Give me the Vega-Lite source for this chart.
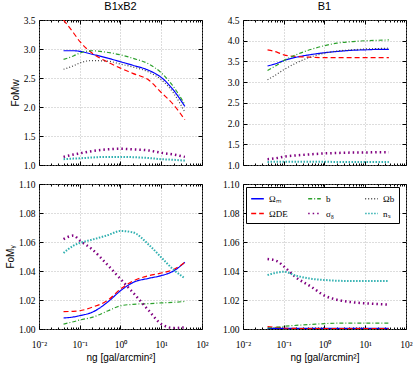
{
  "$schema": "https://vega.github.io/schema/vega-lite/v6.json",
  "padding": {"left": 4, "top": 0, "right": 4, "bottom": 0},
  "background": "white",
  "columns": 2,
  "spacing": {"row": 8, "column": 12},
  "data": {"values": [
    {"panel":"A","param":"Ωₘ","ng":0.04,"fom":2.97},{"panel":"A","param":"Ωₘ","ng":0.07,"fom":2.97},{"panel":"A","param":"Ωₘ","ng":0.1,"fom":2.96},{"panel":"A","param":"Ωₘ","ng":0.2,"fom":2.91},{"panel":"A","param":"Ωₘ","ng":0.5,"fom":2.84},{"panel":"A","param":"Ωₘ","ng":1,"fom":2.78},{"panel":"A","param":"Ωₘ","ng":2,"fom":2.72},{"panel":"A","param":"Ωₘ","ng":5,"fom":2.63},{"panel":"A","param":"Ωₘ","ng":10,"fom":2.51},{"panel":"A","param":"Ωₘ","ng":20,"fom":2.29},{"panel":"A","param":"Ωₘ","ng":38,"fom":2.01},
    {"panel":"A","param":"ΩDE","ng":0.04,"fom":3.5},{"panel":"A","param":"ΩDE","ng":0.07,"fom":3.28},{"panel":"A","param":"ΩDE","ng":0.1,"fom":3.13},{"panel":"A","param":"ΩDE","ng":0.2,"fom":2.93},{"panel":"A","param":"ΩDE","ng":0.5,"fom":2.77},{"panel":"A","param":"ΩDE","ng":1,"fom":2.67},{"panel":"A","param":"ΩDE","ng":2,"fom":2.58},{"panel":"A","param":"ΩDE","ng":5,"fom":2.46},{"panel":"A","param":"ΩDE","ng":10,"fom":2.25},{"panel":"A","param":"ΩDE","ng":20,"fom":2.04},{"panel":"A","param":"ΩDE","ng":38,"fom":1.78},
    {"panel":"A","param":"b","ng":0.04,"fom":2.82},{"panel":"A","param":"b","ng":0.07,"fom":2.88},{"panel":"A","param":"b","ng":0.1,"fom":2.93},{"panel":"A","param":"b","ng":0.2,"fom":2.97},{"panel":"A","param":"b","ng":0.5,"fom":2.94},{"panel":"A","param":"b","ng":1,"fom":2.9},{"panel":"A","param":"b","ng":2,"fom":2.84},{"panel":"A","param":"b","ng":5,"fom":2.74},{"panel":"A","param":"b","ng":10,"fom":2.59},{"panel":"A","param":"b","ng":20,"fom":2.35},{"panel":"A","param":"b","ng":38,"fom":2.04},
    {"panel":"A","param":"Ωb","ng":0.04,"fom":2.65},{"panel":"A","param":"Ωb","ng":0.07,"fom":2.71},{"panel":"A","param":"Ωb","ng":0.1,"fom":2.76},{"panel":"A","param":"Ωb","ng":0.2,"fom":2.8},{"panel":"A","param":"Ωb","ng":0.5,"fom":2.79},{"panel":"A","param":"Ωb","ng":1,"fom":2.74},{"panel":"A","param":"Ωb","ng":2,"fom":2.69},{"panel":"A","param":"Ωb","ng":5,"fom":2.6},{"panel":"A","param":"Ωb","ng":10,"fom":2.47},{"panel":"A","param":"Ωb","ng":20,"fom":2.24},{"panel":"A","param":"Ωb","ng":38,"fom":1.91},
    {"panel":"A","param":"σ₈","ng":0.04,"fom":1.14},{"panel":"A","param":"σ₈","ng":0.07,"fom":1.18},{"panel":"A","param":"σ₈","ng":0.1,"fom":1.2},{"panel":"A","param":"σ₈","ng":0.2,"fom":1.24},{"panel":"A","param":"σ₈","ng":0.5,"fom":1.27},{"panel":"A","param":"σ₈","ng":1,"fom":1.28},{"panel":"A","param":"σ₈","ng":2,"fom":1.27},{"panel":"A","param":"σ₈","ng":5,"fom":1.25},{"panel":"A","param":"σ₈","ng":10,"fom":1.21},{"panel":"A","param":"σ₈","ng":20,"fom":1.18},{"panel":"A","param":"σ₈","ng":38,"fom":1.14},
    {"panel":"A","param":"nₛ","ng":0.04,"fom":1.1},{"panel":"A","param":"nₛ","ng":0.07,"fom":1.11},{"panel":"A","param":"nₛ","ng":0.1,"fom":1.115},{"panel":"A","param":"nₛ","ng":0.2,"fom":1.13},{"panel":"A","param":"nₛ","ng":0.5,"fom":1.14},{"panel":"A","param":"nₛ","ng":1,"fom":1.14},{"panel":"A","param":"nₛ","ng":2,"fom":1.135},{"panel":"A","param":"nₛ","ng":5,"fom":1.12},{"panel":"A","param":"nₛ","ng":10,"fom":1.1},{"panel":"A","param":"nₛ","ng":20,"fom":1.09},{"panel":"A","param":"nₛ","ng":38,"fom":1.075},
    {"panel":"B","param":"Ωₘ","ng":0.04,"fom":3.39},{"panel":"B","param":"Ωₘ","ng":0.07,"fom":3.46},{"panel":"B","param":"Ωₘ","ng":0.1,"fom":3.52},{"panel":"B","param":"Ωₘ","ng":0.2,"fom":3.6},{"panel":"B","param":"Ωₘ","ng":0.5,"fom":3.67},{"panel":"B","param":"Ωₘ","ng":1,"fom":3.71},{"panel":"B","param":"Ωₘ","ng":2,"fom":3.74},{"panel":"B","param":"Ωₘ","ng":5,"fom":3.77},{"panel":"B","param":"Ωₘ","ng":10,"fom":3.78},{"panel":"B","param":"Ωₘ","ng":20,"fom":3.79},{"panel":"B","param":"Ωₘ","ng":38,"fom":3.79},
    {"panel":"B","param":"ΩDE","ng":0.04,"fom":3.78},{"panel":"B","param":"ΩDE","ng":0.07,"fom":3.72},{"panel":"B","param":"ΩDE","ng":0.1,"fom":3.66},{"panel":"B","param":"ΩDE","ng":0.2,"fom":3.62},{"panel":"B","param":"ΩDE","ng":0.5,"fom":3.6},{"panel":"B","param":"ΩDE","ng":1,"fom":3.59},{"panel":"B","param":"ΩDE","ng":2,"fom":3.59},{"panel":"B","param":"ΩDE","ng":5,"fom":3.59},{"panel":"B","param":"ΩDE","ng":10,"fom":3.59},{"panel":"B","param":"ΩDE","ng":20,"fom":3.59},{"panel":"B","param":"ΩDE","ng":38,"fom":3.59},
    {"panel":"B","param":"b","ng":0.04,"fom":3.28},{"panel":"B","param":"b","ng":0.07,"fom":3.42},{"panel":"B","param":"b","ng":0.1,"fom":3.52},{"panel":"B","param":"b","ng":0.2,"fom":3.66},{"panel":"B","param":"b","ng":0.5,"fom":3.8},{"panel":"B","param":"b","ng":1,"fom":3.88},{"panel":"B","param":"b","ng":2,"fom":3.94},{"panel":"B","param":"b","ng":5,"fom":3.98},{"panel":"B","param":"b","ng":10,"fom":4.0},{"panel":"B","param":"b","ng":20,"fom":4.01},{"panel":"B","param":"b","ng":38,"fom":4.02},
    {"panel":"B","param":"Ωb","ng":0.04,"fom":3.06},{"panel":"B","param":"Ωb","ng":0.07,"fom":3.2},{"panel":"B","param":"Ωb","ng":0.1,"fom":3.3},{"panel":"B","param":"Ωb","ng":0.2,"fom":3.46},{"panel":"B","param":"Ωb","ng":0.5,"fom":3.62},{"panel":"B","param":"Ωb","ng":1,"fom":3.7},{"panel":"B","param":"Ωb","ng":2,"fom":3.75},{"panel":"B","param":"Ωb","ng":5,"fom":3.78},{"panel":"B","param":"Ωb","ng":10,"fom":3.8},{"panel":"B","param":"Ωb","ng":20,"fom":3.81},{"panel":"B","param":"Ωb","ng":38,"fom":3.82},
    {"panel":"B","param":"σ₈","ng":0.04,"fom":1.14},{"panel":"B","param":"σ₈","ng":0.07,"fom":1.17},{"panel":"B","param":"σ₈","ng":0.1,"fom":1.2},{"panel":"B","param":"σ₈","ng":0.2,"fom":1.23},{"panel":"B","param":"σ₈","ng":0.5,"fom":1.26},{"panel":"B","param":"σ₈","ng":1,"fom":1.28},{"panel":"B","param":"σ₈","ng":2,"fom":1.29},{"panel":"B","param":"σ₈","ng":5,"fom":1.3},{"panel":"B","param":"σ₈","ng":10,"fom":1.3},{"panel":"B","param":"σ₈","ng":20,"fom":1.31},{"panel":"B","param":"σ₈","ng":38,"fom":1.31},
    {"panel":"B","param":"nₛ","ng":0.04,"fom":1.075},{"panel":"B","param":"nₛ","ng":0.07,"fom":1.077},{"panel":"B","param":"nₛ","ng":0.1,"fom":1.078},{"panel":"B","param":"nₛ","ng":0.2,"fom":1.078},{"panel":"B","param":"nₛ","ng":0.5,"fom":1.077},{"panel":"B","param":"nₛ","ng":1,"fom":1.076},{"panel":"B","param":"nₛ","ng":2,"fom":1.075},{"panel":"B","param":"nₛ","ng":5,"fom":1.074},{"panel":"B","param":"nₛ","ng":10,"fom":1.073},{"panel":"B","param":"nₛ","ng":20,"fom":1.073},{"panel":"B","param":"nₛ","ng":38,"fom":1.073},
    {"panel":"C","param":"Ωₘ","ng":0.04,"fom":1.0076},{"panel":"C","param":"Ωₘ","ng":0.07,"fom":1.0083},{"panel":"C","param":"Ωₘ","ng":0.1,"fom":1.0092},{"panel":"C","param":"Ωₘ","ng":0.2,"fom":1.0115},{"panel":"C","param":"Ωₘ","ng":0.5,"fom":1.0189},{"panel":"C","param":"Ωₘ","ng":1,"fom":1.0264},{"panel":"C","param":"Ωₘ","ng":2,"fom":1.032},{"panel":"C","param":"Ωₘ","ng":5,"fom":1.035},{"panel":"C","param":"Ωₘ","ng":10,"fom":1.0368},{"panel":"C","param":"Ωₘ","ng":20,"fom":1.04},{"panel":"C","param":"Ωₘ","ng":38,"fom":1.046},
    {"panel":"C","param":"ΩDE","ng":0.04,"fom":1.012},{"panel":"C","param":"ΩDE","ng":0.07,"fom":1.0122},{"panel":"C","param":"ΩDE","ng":0.1,"fom":1.0126},{"panel":"C","param":"ΩDE","ng":0.2,"fom":1.015},{"panel":"C","param":"ΩDE","ng":0.5,"fom":1.02},{"panel":"C","param":"ΩDE","ng":1,"fom":1.0276},{"panel":"C","param":"ΩDE","ng":2,"fom":1.033},{"panel":"C","param":"ΩDE","ng":5,"fom":1.0368},{"panel":"C","param":"ΩDE","ng":10,"fom":1.0386},{"panel":"C","param":"ΩDE","ng":20,"fom":1.041},{"panel":"C","param":"ΩDE","ng":38,"fom":1.046},
    {"panel":"C","param":"b","ng":0.04,"fom":1.0034},{"panel":"C","param":"b","ng":0.07,"fom":1.005},{"panel":"C","param":"b","ng":0.1,"fom":1.0062},{"panel":"C","param":"b","ng":0.2,"fom":1.008},{"panel":"C","param":"b","ng":0.5,"fom":1.0126},{"panel":"C","param":"b","ng":1,"fom":1.016},{"panel":"C","param":"b","ng":2,"fom":1.017},{"panel":"C","param":"b","ng":5,"fom":1.0175},{"panel":"C","param":"b","ng":10,"fom":1.018},{"panel":"C","param":"b","ng":20,"fom":1.0184},{"panel":"C","param":"b","ng":38,"fom":1.019},
    {"panel":"C","param":"σ₈","ng":0.04,"fom":1.062},{"panel":"C","param":"σ₈","ng":0.07,"fom":1.0644},{"panel":"C","param":"σ₈","ng":0.1,"fom":1.061},{"panel":"C","param":"σ₈","ng":0.2,"fom":1.055},{"panel":"C","param":"σ₈","ng":0.5,"fom":1.0437},{"panel":"C","param":"σ₈","ng":1,"fom":1.0345},{"panel":"C","param":"σ₈","ng":2,"fom":1.0253},{"panel":"C","param":"σ₈","ng":5,"fom":1.0126},{"panel":"C","param":"σ₈","ng":10,"fom":1.0034},{"panel":"C","param":"σ₈","ng":20,"fom":1.0007},{"panel":"C","param":"σ₈","ng":38,"fom":1.0011},
    {"panel":"C","param":"nₛ","ng":0.04,"fom":1.0524},{"panel":"C","param":"nₛ","ng":0.07,"fom":1.0575},{"panel":"C","param":"nₛ","ng":0.1,"fom":1.0593},{"panel":"C","param":"nₛ","ng":0.2,"fom":1.0616},{"panel":"C","param":"nₛ","ng":0.5,"fom":1.0648},{"panel":"C","param":"nₛ","ng":1,"fom":1.0676},{"panel":"C","param":"nₛ","ng":2,"fom":1.0667},{"panel":"C","param":"nₛ","ng":5,"fom":1.058},{"panel":"C","param":"nₛ","ng":10,"fom":1.0494},{"panel":"C","param":"nₛ","ng":20,"fom":1.0409},{"panel":"C","param":"nₛ","ng":38,"fom":1.035},
    {"panel":"D","param":"Ωₘ","ng":0.04,"fom":1.0005},{"panel":"D","param":"Ωₘ","ng":0.07,"fom":1.0005},{"panel":"D","param":"Ωₘ","ng":0.1,"fom":1.0005},{"panel":"D","param":"Ωₘ","ng":0.2,"fom":1.0005},{"panel":"D","param":"Ωₘ","ng":0.5,"fom":1.0005},{"panel":"D","param":"Ωₘ","ng":1,"fom":1.0005},{"panel":"D","param":"Ωₘ","ng":2,"fom":1.0005},{"panel":"D","param":"Ωₘ","ng":5,"fom":1.0005},{"panel":"D","param":"Ωₘ","ng":10,"fom":1.0005},{"panel":"D","param":"Ωₘ","ng":20,"fom":1.0005},{"panel":"D","param":"Ωₘ","ng":38,"fom":1.0005},
    {"panel":"D","param":"ΩDE","ng":0.04,"fom":1.0016},{"panel":"D","param":"ΩDE","ng":0.07,"fom":1.0011},{"panel":"D","param":"ΩDE","ng":0.1,"fom":1.0007},{"panel":"D","param":"ΩDE","ng":0.2,"fom":1.0004},{"panel":"D","param":"ΩDE","ng":0.5,"fom":1.0003},{"panel":"D","param":"ΩDE","ng":1,"fom":1.0003},{"panel":"D","param":"ΩDE","ng":2,"fom":1.0003},{"panel":"D","param":"ΩDE","ng":5,"fom":1.0003},{"panel":"D","param":"ΩDE","ng":10,"fom":1.0003},{"panel":"D","param":"ΩDE","ng":20,"fom":1.0003},{"panel":"D","param":"ΩDE","ng":38,"fom":1.0003},
    {"panel":"D","param":"b","ng":0.04,"fom":1.0007},{"panel":"D","param":"b","ng":0.07,"fom":1.0013},{"panel":"D","param":"b","ng":0.1,"fom":1.0018},{"panel":"D","param":"b","ng":0.2,"fom":1.0025},{"panel":"D","param":"b","ng":0.5,"fom":1.0032},{"panel":"D","param":"b","ng":1,"fom":1.0037},{"panel":"D","param":"b","ng":2,"fom":1.004},{"panel":"D","param":"b","ng":5,"fom":1.0041},{"panel":"D","param":"b","ng":10,"fom":1.0041},{"panel":"D","param":"b","ng":20,"fom":1.0041},{"panel":"D","param":"b","ng":38,"fom":1.0041},
    {"panel":"D","param":"σ₈","ng":0.04,"fom":1.0483},{"panel":"D","param":"σ₈","ng":0.07,"fom":1.0467},{"panel":"D","param":"σ₈","ng":0.1,"fom":1.0432},{"panel":"D","param":"σ₈","ng":0.2,"fom":1.0356},{"panel":"D","param":"σ₈","ng":0.5,"fom":1.0287},{"panel":"D","param":"σ₈","ng":1,"fom":1.023},{"panel":"D","param":"σ₈","ng":2,"fom":1.0202},{"panel":"D","param":"σ₈","ng":5,"fom":1.0184},{"panel":"D","param":"σ₈","ng":10,"fom":1.0177},{"panel":"D","param":"σ₈","ng":20,"fom":1.0172},{"panel":"D","param":"σ₈","ng":38,"fom":1.0168},
    {"panel":"D","param":"nₛ","ng":0.04,"fom":1.0372},{"panel":"D","param":"nₛ","ng":0.07,"fom":1.039},{"panel":"D","param":"nₛ","ng":0.1,"fom":1.0395},{"panel":"D","param":"nₛ","ng":0.2,"fom":1.0368},{"panel":"D","param":"nₛ","ng":0.5,"fom":1.0345},{"panel":"D","param":"nₛ","ng":1,"fom":1.0338},{"panel":"D","param":"nₛ","ng":2,"fom":1.0333},{"panel":"D","param":"nₛ","ng":5,"fom":1.0331},{"panel":"D","param":"nₛ","ng":10,"fom":1.0331},{"panel":"D","param":"nₛ","ng":20,"fom":1.0331},{"panel":"D","param":"nₛ","ng":38,"fom":1.0331}
  ]},
  "concat": [
    {
      "width": 163, "height": 145,
      "title": "B1xB2",
      "transform": [{"filter": "datum.panel === 'A'"}],
      "layer": [
        {"mark": {"type": "line", "clip": true, "interpolate": "monotone"},
         "encoding": {
           "x": {"field": "ng", "type": "quantitative", "scale": {"type": "log", "domain": [0.01, 100]},
                 "axis": {"orient": "bottom", "labels": false, "title": null, "values": [0.01,0.02,0.03,0.04,0.05,0.06,0.07,0.08,0.09,0.1,0.2,0.3,0.4,0.5,0.6,0.7,0.8,0.9,1,2,3,4,5,6,7,8,9,10,20,30,40,50,60,70,80,90,100],
                          "tickSize": {"condition": {"test": "indexof([0.01,0.1,1,10,100], datum.value) >= 0", "value": -4}, "value": -2},
                          "gridOpacity": {"condition": {"test": "indexof([0.01,0.1,1,10,100], datum.value) >= 0", "value": 1}, "value": 0}}},
           "y": {"field": "fom", "type": "quantitative", "scale": {"domain": [1, 3.5], "nice": false, "zero": false},
                 "axis": {"values": [1,1.5,2,2.5,3,3.5], "format": ".1f", "title": "FoMw"}},
           "color": {"field": "param", "type": "nominal", "scale": {"domain": ["Ωₘ","b","Ωb","ΩDE","σ₈","nₛ"], "range": ["#0000ff","#2ca02c","#444444","#ff0000","#800080","#30b0b0"]}, "legend": null},
           "strokeDash": {"field": "param", "type": "nominal", "scale": {"domain": ["Ωₘ","b","Ωb","ΩDE","σ₈","nₛ"], "range": [[1,0],[4,2,1,2],[1,2],[5,3],[1.5,3],[1.5,1.5]]}, "legend": null},
           "strokeWidth": {"condition": [{"test": "datum.param === 'σ₈'", "value": 2.5}, {"test": "datum.param === 'nₛ'", "value": 2}], "value": 1.2}
         }},
        {"mark": {"type": "line", "opacity": 0},
         "encoding": {
           "x": {"field": "ng", "type": "quantitative", "axis": {"orient": "top", "labels": false, "title": null, "grid": false, "values": [0.01,0.02,0.03,0.04,0.05,0.06,0.07,0.08,0.09,0.1,0.2,0.3,0.4,0.5,0.6,0.7,0.8,0.9,1,2,3,4,5,6,7,8,9,10,20,30,40,50,60,70,80,90,100],
                          "tickSize": {"condition": {"test": "indexof([0.01,0.1,1,10,100], datum.value) >= 0", "value": -4}, "value": -2}}},
           "y": {"field": "fom", "type": "quantitative", "axis": {"orient": "right", "labels": false, "title": null, "grid": false, "values": [1,1.5,2,2.5,3,3.5]}},
           "detail": {"field": "param"}
         }}
      ],
      "resolve": {"axis": {"x": "independent", "y": "independent"}}
    },
    {
      "width": 163, "height": 145,
      "title": "B1",
      "transform": [{"filter": "datum.panel === 'B'"}],
      "layer": [
        {"mark": {"type": "line", "clip": true, "interpolate": "monotone"},
         "encoding": {
           "x": {"field": "ng", "type": "quantitative", "scale": {"type": "log", "domain": [0.01, 100]},
                 "axis": {"orient": "bottom", "labels": false, "title": null, "values": [0.01,0.02,0.03,0.04,0.05,0.06,0.07,0.08,0.09,0.1,0.2,0.3,0.4,0.5,0.6,0.7,0.8,0.9,1,2,3,4,5,6,7,8,9,10,20,30,40,50,60,70,80,90,100],
                          "tickSize": {"condition": {"test": "indexof([0.01,0.1,1,10,100], datum.value) >= 0", "value": -4}, "value": -2},
                          "gridOpacity": {"condition": {"test": "indexof([0.01,0.1,1,10,100], datum.value) >= 0", "value": 1}, "value": 0}}},
           "y": {"field": "fom", "type": "quantitative", "scale": {"domain": [1, 4.5], "nice": false, "zero": false},
                 "axis": {"values": [1,1.5,2,2.5,3,3.5,4,4.5], "format": ".1f", "title": null}},
           "color": {"field": "param", "type": "nominal", "scale": {"domain": ["Ωₘ","b","Ωb","ΩDE","σ₈","nₛ"], "range": ["#0000ff","#2ca02c","#444444","#ff0000","#800080","#30b0b0"]}, "legend": null},
           "strokeDash": {"field": "param", "type": "nominal", "scale": {"domain": ["Ωₘ","b","Ωb","ΩDE","σ₈","nₛ"], "range": [[1,0],[4,2,1,2],[1,2],[5,3],[1.5,3],[1.5,1.5]]}, "legend": null},
           "strokeWidth": {"condition": [{"test": "datum.param === 'σ₈'", "value": 2.5}, {"test": "datum.param === 'nₛ'", "value": 2}], "value": 1.2}
         }},
        {"mark": {"type": "line", "opacity": 0},
         "encoding": {
           "x": {"field": "ng", "type": "quantitative", "axis": {"orient": "top", "labels": false, "title": null, "grid": false, "values": [0.01,0.02,0.03,0.04,0.05,0.06,0.07,0.08,0.09,0.1,0.2,0.3,0.4,0.5,0.6,0.7,0.8,0.9,1,2,3,4,5,6,7,8,9,10,20,30,40,50,60,70,80,90,100],
                          "tickSize": {"condition": {"test": "indexof([0.01,0.1,1,10,100], datum.value) >= 0", "value": -4}, "value": -2}}},
           "y": {"field": "fom", "type": "quantitative", "axis": {"orient": "right", "labels": false, "title": null, "grid": false, "values": [1,1.5,2,2.5,3,3.5,4,4.5]}},
           "detail": {"field": "param"}
         }}
      ],
      "resolve": {"axis": {"x": "independent", "y": "independent"}}
    },
    {
      "width": 163, "height": 145,
      "transform": [{"filter": "datum.panel === 'C'"}],
      "layer": [
        {"mark": {"type": "line", "clip": true, "interpolate": "monotone"},
         "encoding": {
           "x": {"field": "ng", "type": "quantitative", "scale": {"type": "log", "domain": [0.01, 100]},
                 "axis": {"orient": "bottom", "title": "ng [gal/arcmin²]", "labelPadding": 14, "titlePadding": 4, "values": [0.01,0.02,0.03,0.04,0.05,0.06,0.07,0.08,0.09,0.1,0.2,0.3,0.4,0.5,0.6,0.7,0.8,0.9,1,2,3,4,5,6,7,8,9,10,20,30,40,50,60,70,80,90,100],
                          "labelExpr": "datum.value==0.01?'10⁻²':datum.value==0.1?'10⁻¹':datum.value==1?'10⁰':datum.value==10?'10¹':datum.value==100?'10²':''",
                          "labelFlush": false,
                          "tickSize": {"condition": {"test": "indexof([0.01,0.1,1,10,100], datum.value) >= 0", "value": -4}, "value": -2},
                          "gridOpacity": {"condition": {"test": "indexof([0.01,0.1,1,10,100], datum.value) >= 0", "value": 1}, "value": 0}}},
           "y": {"field": "fom", "type": "quantitative", "scale": {"domain": [1, 1.1], "nice": false, "zero": false},
                 "axis": {"values": [1,1.02,1.04,1.06,1.08,1.1], "format": ".2f", "title": "FoMᵧ"}},
           "color": {"field": "param", "type": "nominal", "scale": {"domain": ["Ωₘ","b","Ωb","ΩDE","σ₈","nₛ"], "range": ["#0000ff","#2ca02c","#444444","#ff0000","#800080","#30b0b0"]}, "legend": null},
           "strokeDash": {"field": "param", "type": "nominal", "scale": {"domain": ["Ωₘ","b","Ωb","ΩDE","σ₈","nₛ"], "range": [[1,0],[4,2,1,2],[1,2],[5,3],[1.5,3],[1.5,1.5]]}, "legend": null},
           "strokeWidth": {"condition": [{"test": "datum.param === 'σ₈'", "value": 2.5}, {"test": "datum.param === 'nₛ'", "value": 2}], "value": 1.2}
         }},
        {"mark": {"type": "line", "opacity": 0},
         "encoding": {
           "x": {"field": "ng", "type": "quantitative", "axis": {"orient": "top", "labels": false, "title": null, "grid": false, "values": [0.01,0.02,0.03,0.04,0.05,0.06,0.07,0.08,0.09,0.1,0.2,0.3,0.4,0.5,0.6,0.7,0.8,0.9,1,2,3,4,5,6,7,8,9,10,20,30,40,50,60,70,80,90,100],
                          "tickSize": {"condition": {"test": "indexof([0.01,0.1,1,10,100], datum.value) >= 0", "value": -4}, "value": -2}}},
           "y": {"field": "fom", "type": "quantitative", "axis": {"orient": "right", "labels": false, "title": null, "grid": false, "values": [1,1.02,1.04,1.06,1.08,1.1]}},
           "detail": {"field": "param"}
         }}
      ],
      "resolve": {"axis": {"x": "independent", "y": "independent"}}
    },
    {
      "width": 163, "height": 145,
      "transform": [{"filter": "datum.panel === 'D'"}],
      "layer": [
        {"mark": {"type": "line", "clip": true, "interpolate": "monotone"},
         "encoding": {
           "x": {"field": "ng", "type": "quantitative", "scale": {"type": "log", "domain": [0.01, 100]},
                 "axis": {"orient": "bottom", "title": "ng [gal/arcmin²]", "labelPadding": 14, "titlePadding": 4, "values": [0.01,0.02,0.03,0.04,0.05,0.06,0.07,0.08,0.09,0.1,0.2,0.3,0.4,0.5,0.6,0.7,0.8,0.9,1,2,3,4,5,6,7,8,9,10,20,30,40,50,60,70,80,90,100],
                          "labelExpr": "datum.value==0.01?'10⁻²':datum.value==0.1?'10⁻¹':datum.value==1?'10⁰':datum.value==10?'10¹':datum.value==100?'10²':''",
                          "labelFlush": false,
                          "tickSize": {"condition": {"test": "indexof([0.01,0.1,1,10,100], datum.value) >= 0", "value": -4}, "value": -2},
                          "gridOpacity": {"condition": {"test": "indexof([0.01,0.1,1,10,100], datum.value) >= 0", "value": 1}, "value": 0}}},
           "y": {"field": "fom", "type": "quantitative", "scale": {"domain": [1, 1.1], "nice": false, "zero": false},
                 "axis": {"values": [1,1.02,1.04,1.06,1.08,1.1], "format": ".2f", "title": null}},
           "color": {"field": "param", "type": "nominal", "scale": {"domain": ["Ωₘ","b","Ωb","ΩDE","σ₈","nₛ"], "range": ["#0000ff","#2ca02c","#444444","#ff0000","#800080","#30b0b0"]},
                     "legend": {"orient": "top-left", "offset": 3, "columns": 3, "direction": "horizontal", "title": null, "symbolType": "stroke", "symbolSize": 160, "symbolStrokeWidth": 1.5, "columnPadding": 17, "rowPadding": 2, "gridAlign": "all", "labelFont": "Liberation Serif", "labelFontSize": 9, "strokeColor": "black", "fillColor": "white", "padding": 4}},
           "strokeDash": {"field": "param", "type": "nominal", "scale": {"domain": ["Ωₘ","b","Ωb","ΩDE","σ₈","nₛ"], "range": [[1,0],[4,2,1,2],[1,2],[5,3],[1.5,3],[1.5,1.5]]},
                     "legend": {"orient": "top-left", "offset": 3, "columns": 3, "direction": "horizontal", "title": null, "symbolType": "stroke", "symbolSize": 160, "symbolStrokeWidth": 1.5, "columnPadding": 17, "rowPadding": 2, "gridAlign": "all", "labelFont": "Liberation Serif", "labelFontSize": 9, "strokeColor": "black", "fillColor": "white", "padding": 4}},
           "strokeWidth": {"condition": [{"test": "datum.param === 'σ₈'", "value": 2.5}, {"test": "datum.param === 'nₛ'", "value": 2}], "value": 1.2}
         }},
        {"mark": {"type": "line", "opacity": 0},
         "encoding": {
           "x": {"field": "ng", "type": "quantitative", "axis": {"orient": "top", "labels": false, "title": null, "grid": false, "values": [0.01,0.02,0.03,0.04,0.05,0.06,0.07,0.08,0.09,0.1,0.2,0.3,0.4,0.5,0.6,0.7,0.8,0.9,1,2,3,4,5,6,7,8,9,10,20,30,40,50,60,70,80,90,100],
                          "tickSize": {"condition": {"test": "indexof([0.01,0.1,1,10,100], datum.value) >= 0", "value": -4}, "value": -2}}},
           "y": {"field": "fom", "type": "quantitative", "axis": {"orient": "right", "labels": false, "title": null, "grid": false, "values": [1,1.02,1.04,1.06,1.08,1.1]}},
           "detail": {"field": "param"}
         }}
      ],
      "resolve": {"axis": {"x": "independent", "y": "independent"}}
    }
  ],
  "resolve": {"legend": {"color": "independent", "strokeDash": "independent"}},
  "config": {
    "view": {"stroke": "black", "strokeWidth": 1},
    "title": {"font": "Liberation Sans", "fontSize": 11, "fontWeight": "normal", "color": "black", "offset": 3},
    "axis": {"domain": false, "labelFont": "Liberation Serif", "labelFontSize": 9.5, "labelColor": "black", "titleFont": "Liberation Sans", "titleFontSize": 10, "titleFontWeight": "normal", "titleColor": "black", "tickColor": "black", "tickSize": -4, "labelPadding": 8, "gridColor": "#aaaaaa", "gridDash": [1, 2], "gridWidth": 0.8, "titlePadding": 3},
    "legend": {"labelColor": "black"}
  }
}
